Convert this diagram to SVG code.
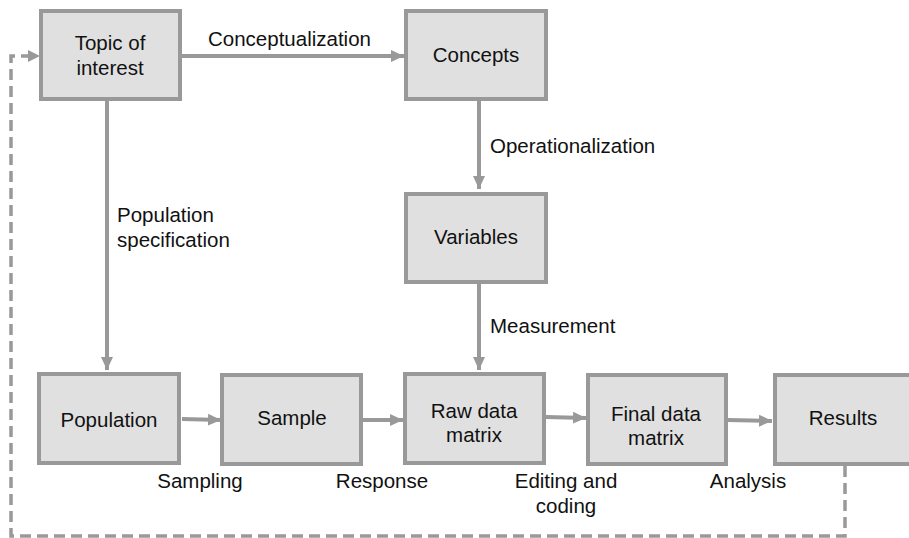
<svg xmlns="http://www.w3.org/2000/svg" width="909" height="538" viewBox="0 0 909 538">
<style>
.box{fill:#e0e0e0;stroke:#999;stroke-width:4}
.t{font-family:"Liberation Sans",Arial,sans-serif;font-size:20.5px;fill:#111}
.c{text-anchor:middle}
.con{stroke:#999;stroke-width:4;fill:none}
.dash{stroke:#999;stroke-width:3.5;fill:none;stroke-dasharray:11 6}
</style>
<defs>
<marker id="ah" markerUnits="userSpaceOnUse" markerWidth="14" markerHeight="14" viewBox="0 0 14 14" refX="13" refY="7" orient="auto">
<path d="M0,1 L13,7 L0,13 Z" fill="#999"/>
</marker>
</defs>
<rect width="909" height="538" fill="#fff"/>
<g id="connectors">
<line class="con" x1="181" y1="56" x2="404" y2="56" marker-end="url(#ah)"/>
<line class="con" x1="479" y1="100" x2="479" y2="189" marker-end="url(#ah)"/>
<line class="con" x1="479" y1="284" x2="479" y2="370" marker-end="url(#ah)"/>
<line class="con" x1="107" y1="100" x2="107" y2="370" marker-end="url(#ah)"/>
<line class="con" x1="182" y1="419" x2="221" y2="420" marker-end="url(#ah)"/>
<line class="con" x1="363" y1="420" x2="403" y2="420" marker-end="url(#ah)"/>
<line class="con" x1="546" y1="417" x2="586" y2="418" marker-end="url(#ah)"/>
<line class="con" x1="727" y1="420" x2="772" y2="421" marker-end="url(#ah)"/>
<polyline class="dash" points="845,466 845,536 11,536 11,56 28,56"/>
<path d="M28,50 L40,56 L28,62 Z" fill="#999"/>
<text class="t" x="208" y="46">Conceptualization</text>
<text class="t" x="490" y="153">Operationalization</text>
<text class="t" x="490" y="333">Measurement</text>
<text class="t" x="117" y="222">Population</text>
<text class="t" x="117" y="247">specification</text>
<text class="t c" x="200" y="488">Sampling</text>
<text class="t c" x="382" y="488">Response</text>
<text class="t c" x="566" y="488">Editing and</text>
<text class="t c" x="566" y="513">coding</text>
<text class="t c" x="748" y="488">Analysis</text>
</g>
<g id="topic">
<rect class="box" x="41" y="11" width="139" height="88"/>
<text class="t c" x="110" y="50">Topic of</text>
<text class="t c" x="110" y="75">interest</text>
</g>
<g id="concepts">
<rect class="box" x="406" y="11" width="140" height="88"/>
<text class="t c" x="476" y="62">Concepts</text>
</g>
<g id="variables">
<rect class="box" x="406" y="194" width="140" height="88"/>
<text class="t c" x="476" y="244">Variables</text>
</g>
<g id="population">
<rect class="box" x="39" y="374" width="140" height="89"/>
<text class="t c" x="109" y="427">Population</text>
</g>
<g id="sample">
<rect class="box" x="222" y="375" width="139" height="89"/>
<text class="t c" x="292" y="425">Sample</text>
</g>
<g id="raw">
<rect class="box" x="405" y="374" width="139" height="89"/>
<text class="t c" x="474" y="418">Raw data</text>
<text class="t c" x="474" y="442">matrix</text>
</g>
<g id="final">
<rect class="box" x="588" y="375" width="138" height="89"/>
<text class="t c" x="656" y="421">Final data</text>
<text class="t c" x="656" y="445">matrix</text>
</g>
<g id="results">
<rect class="box" x="775" y="375" width="140" height="89"/>
<text class="t c" x="843" y="425">Results</text>
</g>
</svg>
